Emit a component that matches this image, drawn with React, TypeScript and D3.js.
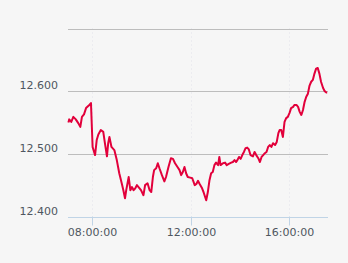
import React from "react";
import * as d3 from "d3";

const times: string[] = [
  "07:02","07:04","07:09","07:14","07:20","07:26","07:31","07:35","07:40","07:45","07:53","07:57",
  "08:01","08:07","08:11","08:15","08:21","08:27","08:31","08:36","08:39","08:42","08:47","08:54",
  "09:00","09:06","09:12","09:16","09:20","09:23","09:29","09:33","09:37","09:41","09:45","09:49",
  "09:53","09:59","10:05","10:09","10:15","10:20","10:24","10:28","10:31","10:36","10:40","10:44",
  "10:50","10:56","11:00","11:06","11:12","11:17","11:22","11:28","11:33","11:37","11:41","11:45",
  "11:49","11:53","11:59","12:04","12:10","12:14","12:18","12:22","12:28","12:32","12:38","12:42",
  "12:46","12:50","12:54","12:58","13:02","13:07","13:10","13:13","13:19","13:24","13:28","13:33",
  "13:39","13:43","13:47","13:51","13:54","13:58","14:02","14:06","14:10","14:14","14:18","14:22",
  "14:26","14:32","14:36","14:40","14:45","14:49","14:53","14:57","15:01","15:05","15:09","15:13",
  "15:17","15:21","15:26","15:30","15:34","15:37","15:41","15:45","15:49","15:53","15:57","16:01",
  "16:05","16:10","16:13","16:18","16:22","16:26","16:30","16:34","16:38","16:42","16:46","16:50",
  "16:54","16:58","17:02","17:06","17:10","17:14","17:18","17:23","17:27","17:31","17:33"
];

const prices: number[] = [
  12.550,12.555,12.551,12.559,12.555,12.549,12.543,12.559,12.563,12.573,12.578,12.581,
  12.511,12.498,12.522,12.531,12.538,12.535,12.517,12.496,12.517,12.527,12.511,12.506,
  12.490,12.469,12.453,12.442,12.429,12.442,12.463,12.442,12.447,12.442,12.445,12.450,
  12.447,12.442,12.434,12.450,12.453,12.442,12.439,12.463,12.474,12.477,12.485,12.477,
  12.466,12.456,12.463,12.479,12.493,12.492,12.485,12.479,12.474,12.466,12.471,12.479,
  12.469,12.463,12.462,12.461,12.450,12.452,12.457,12.452,12.445,12.438,12.426,12.439,
  12.458,12.469,12.471,12.482,12.486,12.482,12.495,12.482,12.485,12.486,12.482,12.484,
  12.486,12.487,12.490,12.487,12.490,12.495,12.492,12.498,12.503,12.509,12.510,12.507,
  12.498,12.496,12.503,12.498,12.493,12.487,12.495,12.498,12.501,12.503,12.511,12.514,
  12.511,12.517,12.514,12.519,12.533,12.538,12.538,12.527,12.551,12.557,12.559,12.565,
  12.573,12.575,12.578,12.578,12.575,12.567,12.562,12.570,12.583,12.591,12.596,12.609,
  12.615,12.618,12.628,12.636,12.637,12.628,12.615,12.605,12.600,12.598,12.598
];

const yTicks: number[] = [12.4, 12.5, 12.6, 12.7];
const yLabelTicks: number[] = [12.4, 12.5, 12.6];
const xTickLabels: string[] = ["08:00:00", "12:00:00", "16:00:00"];
const xDomain: string[] = ["07:01", "17:35"];

const toMin = (s: string) => {
  const [h, m] = s.split(":").map(Number);
  return h * 60 + m;
};

export default function App() {
  const W = 348, H = 263;
  const left = 68, right = 328, top = 28.5, bottom = 216.5;
  const x = d3.scaleLinear().domain(xDomain.map(toMin)).range([left, right]);
  const y = d3.scaleLinear().domain([12.4, 12.7]).range([bottom, top]);
  const data = times.map((t, i) => ({ t: toMin(t), v: prices[i] }));
  const line = d3.line<{ t: number; v: number }>().x(d => x(d.t)).y(d => y(d.v));
  const font = "'DejaVu Sans', Verdana, sans-serif";
  const textColor = "#4f5660";
  return (
    <div style={{ position: "fixed", left: 0, top: 0, width: W, height: H }}>
      <svg width={W} height={H} style={{ display: "block" }}>
        <rect x={0} y={0} width={W} height={H} fill="#f6f6f6" />
        {xTickLabels.map(l => {
          const xx = Math.round(x(toMin(l))) + 0.5;
          return (
            <line key={"v" + l} x1={xx} x2={xx} y1={top} y2={bottom} stroke="#e2e2ea" strokeWidth={1} strokeDasharray="1,3" />
          );
        })}
        {yTicks.filter(t => t !== 12.4).map(t => {
          const yy = Math.round(y(t)) + 0.5;
          return <line key={"h" + t} x1={left} x2={right} y1={yy} y2={yy} stroke="#bdbdbd" strokeWidth={1} />;
        })}
        <line x1={left} x2={right} y1={Math.round(y(12.4)) + 0.5} y2={Math.round(y(12.4)) + 0.5} stroke="#c0d4e6" strokeWidth={1} />
        {xTickLabels.map(l => {
          const xx = Math.round(x(toMin(l))) + 0.5;
          return (
            <g key={"t" + l}>
              <line x1={xx} x2={xx} y1={bottom} y2={bottom + 9} stroke="#c0d4e6" strokeWidth={1} />
              <text x={xx} y={235.5} textAnchor="middle" fontFamily={font} fontSize={11} fill={textColor}>{l}</text>
            </g>
          );
        })}
        {yLabelTicks.map(t => (
          <text key={"yl" + t} x={58} y={Math.round(y(t)) - 2} textAnchor="end" fontFamily={font} fontSize={11} fill={textColor}>
            {d3.format(".3f")(t)}
          </text>
        ))}
        <path d={line(data) || ""} fill="none" stroke="#e2003b" strokeWidth={2} strokeLinejoin="round" />
      </svg>
    </div>
  );
}
